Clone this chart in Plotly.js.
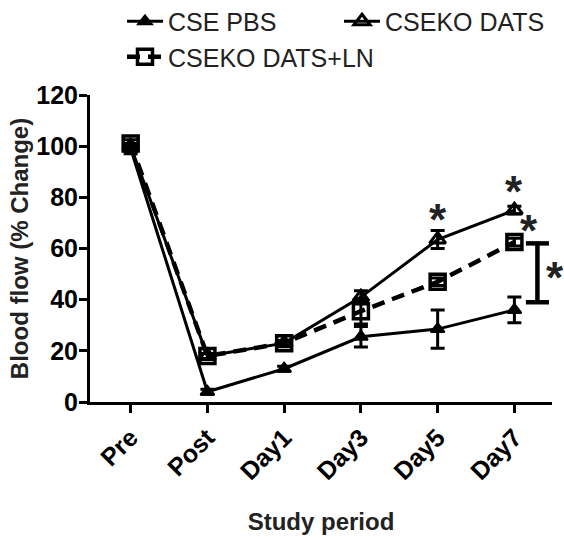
<!DOCTYPE html>
<html>
<head>
<meta charset="utf-8">
<script src="https://cdn.plot.ly/plotly-3.0.1.min.js"></script>
<style>
  html, body { margin: 0; padding: 0; background: #ffffff; }
  #chart { width: 564px; height: 538px; }
</style>
</head>
<body>
<div id="chart"></div>
<script>
// Study time points
const periods = ['Pre', 'Post', 'Day1', 'Day3', 'Day5', 'Day7'];

// Blood flow (% change), mean and SEM per group
const csePbs = [99, 4, 13, 25.5, 28.5, 36];
const csePbsErr = [2, 1, 1, 4, 7.5, 5];
const csekoDats = [100, 18, 23, 41, 63.5, 75];
const csekoDatsErr = [1, 1, 1, 2.5, 3.5, 1.5];
const csekoDatsLn = [101, 18, 23, 35.5, 47, 62.5];
const csekoDatsLnErr = [1.5, 1, 1, 5, 1.5, 1.5];

// Span of the significance bracket at Day7
const bracketSpan = [39, 62];

const yTicks = [0, 20, 40, 60, 80, 100, 120];

const tickFont = { family: 'Liberation Sans, Arial, sans-serif', size: 25, color: '#000', weight: 700 };
const titleFont = { family: 'Liberation Sans, Arial, sans-serif', size: 24, color: '#222', weight: 700 };
const legendFont = { family: 'Liberation Sans, Arial, sans-serif', size: 25, color: '#222' };

function errBar(arr) {
  return { type: 'data', array: arr, visible: true, color: '#000', thickness: 3, width: 7 };
}

const traces = [
  {
    name: 'CSE PBS', x: periods, y: csePbs, type: 'scatter', mode: 'lines+markers',
    line: { color: '#000', width: 3 },
    marker: { symbol: 'triangle-up', size: 12, color: '#000', line: { color: '#000', width: 2 } },
    error_y: errBar(csePbsErr), legend: 'legend'
  },
  {
    name: 'CSEKO DATS', x: periods, y: csekoDats, type: 'scatter', mode: 'lines+markers',
    line: { color: '#000', width: 3 },
    marker: { symbol: 'triangle-up-open', size: 14, color: '#000', line: { color: '#000', width: 3 } },
    error_y: errBar(csekoDatsErr), legend: 'legend'
  },
  {
    name: 'CSEKO DATS+LN', x: periods, y: csekoDatsLn, type: 'scatter', mode: 'lines+markers',
    line: { color: '#000', width: 4.5, dash: '13px,8px' },
    marker: { symbol: 'square-open', size: 15, color: '#000', line: { color: '#000', width: 3.5 } },
    error_y: errBar(csekoDatsLnErr), legend: 'legend2'
  }
];

const starFont = { family: 'Liberation Sans, Arial, sans-serif', size: 44, color: '#222', weight: 700 };
function star(x, y, xs, ys) {
  return { x: x, y: y, xref: 'x', yref: 'y', text: '*', showarrow: false,
           font: starFont, xshift: xs, yshift: ys, xanchor: 'center', yanchor: 'middle' };
}

const annotations = [
  star(4, csekoDats[4], 0, 20),
  star(5, csekoDats[5], 0, 19),
  star(5, csekoDatsLn[5], 15, 12),
  star(5.3, (bracketSpan[0] + bracketSpan[1]) / 2, 18, -5)
];

const shapes = [
  { type: 'line', xref: 'x', yref: 'y', x0: 5.3, x1: 5.3, y0: bracketSpan[0], y1: bracketSpan[1], line: { color: '#000', width: 4.5 } },
  { type: 'line', xref: 'x', yref: 'y', x0: 5.15, x1: 5.45, y0: bracketSpan[0], y1: bracketSpan[0], line: { color: '#000', width: 4.5 } },
  { type: 'line', xref: 'x', yref: 'y', x0: 5.15, x1: 5.45, y0: bracketSpan[1], y1: bracketSpan[1], line: { color: '#000', width: 4.5 } }
];

const legendBase = {
  orientation: 'h', xref: 'container', yref: 'container',
  xanchor: 'left', yanchor: 'middle', font: legendFont,
  itemwidth: 36, bgcolor: 'rgba(0,0,0,0)', borderwidth: 0
};

const layout = {
  width: 564, height: 538,
  margin: { l: 90, r: 12, t: 95, b: 136 },
  paper_bgcolor: '#fff', plot_bgcolor: '#fff',
  showlegend: true,
  legend: Object.assign({}, legendBase, { x: 0.2163, y: 0.96, entrywidth: 166, entrywidthmode: 'pixels' }),
  legend2: Object.assign({}, legendBase, { x: 0.2163, y: 0.894 }),
  xaxis: {
    type: 'category', range: [-0.53, 5.49], showgrid: false, zeroline: false,
    showline: true, linecolor: '#000', linewidth: 3,
    ticks: 'outside', ticklen: 8, tickwidth: 3, tickcolor: '#000',
    tickangle: -45, tickfont: tickFont,
    title: { text: 'Study period', font: titleFont, standoff: 30 }
  },
  yaxis: {
    range: [0, 120], tickvals: yTicks, showgrid: false, zeroline: false,
    showline: true, linecolor: '#000', linewidth: 3,
    ticks: 'outside', ticklen: 8, tickwidth: 3, tickcolor: '#000',
    tickfont: tickFont, ticklabelstandoff: -4,
    title: { text: 'Blood flow (% Change)', font: titleFont, standoff: 1 }
  },
  annotations: annotations,
  shapes: shapes
};

Plotly.newPlot('chart', traces, layout, { staticPlot: true, displayModeBar: false });
</script>
</body>
</html>
